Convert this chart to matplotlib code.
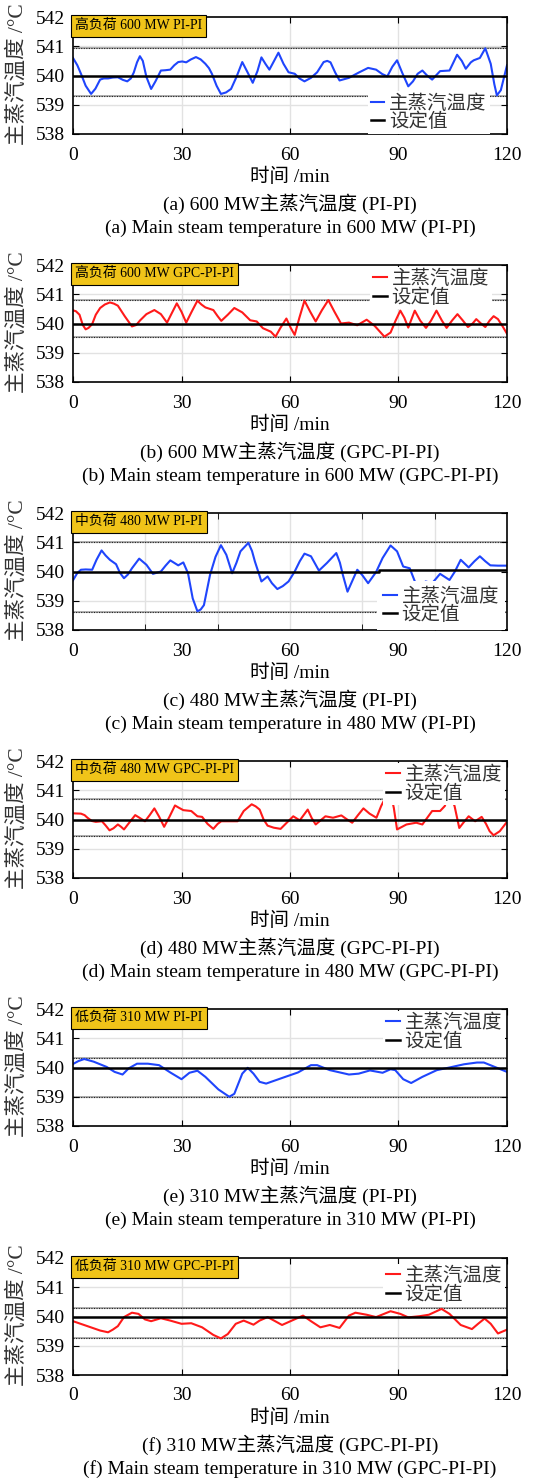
import numpy as np
import matplotlib.pyplot as plt

plt.rcParams['font.family'] = ['Liberation Serif', 'Noto Sans CJK SC']

# ---- data (time in min, temperature in degC) ----
t_a = [0, 1.2, 2.2, 3.5, 5.0, 6.2, 7.5, 8.5, 9.7, 11.0, 12.4, 13.8, 15.0, 16.0, 16.8, 17.7, 18.5, 19.3,
       20.3, 21.6, 22.8, 24.3, 25.5, 26.9, 28.0, 29.1, 30.2, 31.3, 32.6, 34.0, 35.3, 36.6, 37.6, 38.4,
       39.7, 40.9, 42.3, 43.7, 45.2, 46.8, 48.3, 49.7, 51.0, 52.1, 53.2, 54.3, 55.6, 56.8, 58.2, 59.6,
       61.3, 62.6, 64.0, 65.8, 67.5, 69.3, 70.3, 71.2, 72.5, 73.7, 76.3, 79.0, 81.6, 83.8, 85.5, 86.9,
       88.3, 89.6, 91.0, 92.7, 94.0, 95.3, 96.6, 97.9, 99.3, 101.5, 104.1, 105.2, 106.2, 107.5, 108.6,
       110.0, 110.8, 112.5, 114.0, 115.5, 116.5, 117.2, 118.3, 119.2, 120.0]
T_a = [540.60, 540.35, 540.06, 539.65, 539.37, 539.55, 539.86, 539.90, 539.90, 539.93, 539.94, 539.85,
       539.80, 539.90, 540.10, 540.45, 540.66, 540.50, 539.95, 539.54, 539.80, 540.17, 540.18, 540.20,
       540.35, 540.46, 540.48, 540.45, 540.55, 540.63, 540.55, 540.40, 540.25, 540.06, 539.65, 539.37,
       539.42, 539.54, 539.95, 540.46, 540.10, 539.75, 540.15, 540.62, 540.40, 540.20, 540.50, 540.78,
       540.40, 540.11, 540.06, 539.90, 539.80, 539.92, 540.11, 540.46, 540.50, 540.45, 540.10, 539.83,
       539.92, 540.10, 540.26, 540.20, 540.05, 539.97, 540.30, 540.52, 540.10, 539.63, 539.80, 540.06,
       540.17, 540.00, 539.86, 540.15, 540.17, 540.45, 540.71, 540.50, 540.23, 540.45, 540.52, 540.60,
       540.93, 540.40, 539.70, 539.32, 539.50, 539.95, 540.35]

t_b = [0, 0.8, 1.8, 2.7, 3.5, 4.3, 5.3, 6.3, 7.5, 8.8, 10.2, 11.3, 12.4, 14.3, 16.3, 17.5, 18.5, 20.3,
       22.5, 24.3, 26.0, 27.3, 28.7, 30.0, 31.3, 32.8, 34.4, 35.5, 36.6, 38.8, 40.0, 41.0, 42.8, 44.6,
       46.8, 49.0, 50.8, 52.5, 54.7, 56.0, 57.4, 59.0, 60.2, 61.3, 62.6, 64.0, 65.6, 67.1, 68.8, 70.6,
       72.3, 74.1, 76.3, 78.6, 81.2, 83.4, 86.1, 87.8, 89.2, 90.5, 91.6, 92.7, 94.5, 96.0, 97.6, 99.0,
       100.5, 102.0, 103.3, 104.8, 106.3, 107.8, 109.2, 110.5, 111.5, 112.8, 114.0, 115.2, 116.3, 117.5,
       118.8, 120.0]
T_b = [540.45, 540.42, 540.30, 539.95, 539.80, 539.85, 539.98, 540.30, 540.53, 540.65, 540.72, 540.68,
       540.61, 540.25, 539.90, 539.95, 540.10, 540.32, 540.46, 540.32, 540.03, 540.35, 540.69, 540.40,
       540.03, 540.40, 540.78, 540.65, 540.55, 540.46, 540.25, 540.09, 540.30, 540.53, 540.38, 540.11,
       540.07, 539.84, 539.72, 539.55, 539.86, 540.17, 539.85, 539.61, 540.20, 540.78, 540.40, 540.07,
       540.45, 540.80, 540.40, 540.00, 540.03, 539.94, 540.13, 539.92, 539.55, 539.69, 540.10, 540.44,
       540.20, 539.86, 540.44, 540.10, 539.85, 540.10, 540.44, 540.10, 539.85, 540.10, 540.32, 540.10,
       539.88, 540.00, 540.15, 540.00, 539.88, 540.10, 540.25, 540.15, 539.90, 539.65]

t_c = [0, 1.2, 2.2, 3.5, 5.3, 6.5, 7.9, 9.0, 10.2, 11.9, 13.0, 14.1, 15.2, 16.3, 18.3, 20.3, 22.1, 24.3,
       25.6, 26.9, 29.1, 30.5, 31.8, 33.1, 34.4, 35.3, 36.2, 37.9, 39.4, 40.9, 42.4, 44.0, 45.2, 46.3,
       48.5, 49.5, 50.3, 52.1, 53.8, 55.0, 56.5, 58.0, 59.6, 61.3, 62.7, 64.0, 65.8, 68.0, 70.2, 72.8,
       73.8, 74.6, 75.9, 77.3, 78.6, 79.9, 81.6, 83.8, 85.6, 87.8, 89.6, 91.3, 93.1, 94.9, 96.0, 97.5,
       99.3, 101.5, 104.1, 105.6, 107.2, 109.4, 111.0, 112.5, 114.0, 115.4, 117.5, 120.0]
T_c = [539.70, 539.95, 540.06, 540.07, 540.06, 540.40, 540.72, 540.55, 540.40, 540.25, 539.95, 539.77,
       539.90, 540.11, 540.44, 540.23, 539.92, 540.00, 540.20, 540.38, 540.21, 540.31, 539.94, 539.08,
       538.64, 538.70, 538.85, 539.89, 540.50, 540.90, 540.57, 539.94, 540.30, 540.69, 540.98, 540.70,
       540.34, 539.66, 539.83, 539.60, 539.40, 539.50, 539.66, 540.00, 540.35, 540.61, 540.52, 540.03,
       540.29, 540.63, 540.30, 539.89, 539.31, 539.70, 540.06, 539.89, 539.60, 539.98, 540.46, 540.89,
       540.69, 540.17, 540.11, 539.54, 539.48, 539.66, 539.60, 539.92, 539.71, 540.00, 540.40, 540.14,
       540.35, 540.52, 540.35, 540.21, 540.20, 540.20]

t_d = [0, 2.2, 3.2, 4.0, 5.2, 6.3, 8.0, 9.0, 10.1, 11.2, 12.4, 13.3, 14.1, 15.6, 17.2, 18.5, 19.9, 21.2,
       22.5, 23.8, 25.2, 26.7, 28.2, 29.3, 30.5, 32.7, 34.4, 35.7, 37.2, 38.8, 40.0, 41.0, 43.2, 45.5,
       47.2, 49.4, 50.5, 51.6, 52.7, 53.8, 55.5, 57.4, 59.1, 60.9, 62.7, 64.9, 66.0, 67.1, 69.8, 71.9,
       74.2, 75.8, 77.2, 78.8, 80.3, 82.0, 83.9, 85.2, 87.0, 88.0, 88.7, 89.6, 92.2, 94.9, 96.6, 99.3,
       101.5, 102.8, 104.0, 105.5, 106.8, 108.0, 109.4, 111.2, 113.0, 114.2, 115.2, 116.3, 118.0, 120.0]
T_d = [540.21, 540.20, 540.15, 540.06, 539.95, 539.92, 539.94, 539.80, 539.63, 539.70, 539.83, 539.75,
       539.66, 539.90, 540.15, 540.05, 539.94, 540.15, 540.38, 540.10, 539.75, 540.10, 540.48, 540.40,
       540.32, 540.29, 540.11, 540.09, 539.85, 539.68, 539.85, 539.94, 539.94, 539.94, 540.29, 540.52,
       540.45, 540.34, 540.00, 539.79, 539.72, 539.68, 539.89, 540.11, 539.97, 540.34, 540.05, 539.83,
       540.11, 540.06, 540.14, 540.00, 539.89, 540.15, 540.38, 540.20, 540.06, 540.46, 540.90, 540.80,
       540.40, 539.66, 539.83, 539.89, 539.83, 540.29, 540.29, 540.46, 540.90, 540.46, 539.71, 539.90,
       540.11, 539.94, 540.09, 539.85, 539.60, 539.46, 539.60, 539.92]

t_e = [0, 1.5, 3.1, 5.7, 9.3, 11.5, 13.7, 15.4, 17.7, 20.7, 23.8, 26.9, 30.0, 32.2, 34.4, 36.6, 40.2,
       43.2, 44.6, 46.8, 48.3, 49.9, 51.6, 53.4, 58.7, 62.2, 65.8, 67.5, 71.0, 76.3, 79.0, 82.1, 85.6,
       87.8, 89.1, 91.3, 93.5, 96.6, 100.6, 104.1, 108.1, 111.7, 113.6, 116.0, 120.0]
T_e = [540.12, 540.22, 540.29, 540.20, 540.02, 539.85, 539.76, 539.97, 540.13, 540.13, 540.08, 539.83,
       539.60, 539.82, 539.89, 539.68, 539.25, 539.00, 539.10, 539.79, 539.99, 539.79, 539.51, 539.45,
       539.68, 539.83, 540.08, 540.08, 539.91, 539.76, 539.79, 539.90, 539.82, 539.94, 539.91, 539.60,
       539.47, 539.68, 539.91, 540.00, 540.11, 540.17, 540.17, 540.05, 539.85]

t_f = [0, 4.0, 7.5, 9.7, 11.0, 12.4, 14.1, 16.3, 18.1, 19.9, 21.6, 24.3, 26.9, 30.0, 32.7, 35.7, 38.8,
       40.9, 42.8, 45.0, 47.2, 49.9, 51.6, 53.8, 55.6, 57.8, 60.5, 63.6, 65.8, 68.4, 71.0, 73.7, 76.3,
       78.1, 81.2, 83.8, 87.8, 90.5, 92.7, 95.8, 98.4, 101.9, 104.1, 107.2, 110.3, 112.0, 113.8, 115.5,
       117.5, 120.0]
T_f = [539.84, 539.67, 539.52, 539.46, 539.55, 539.67, 539.98, 540.13, 540.09, 539.90, 539.84, 539.94,
       539.86, 539.75, 539.77, 539.63, 539.37, 539.25, 539.40, 539.75, 539.86, 539.72, 539.86, 539.98,
       539.86, 539.71, 539.86, 540.03, 539.84, 539.63, 539.71, 539.61, 540.03, 540.13, 540.06, 539.98,
       540.18, 540.09, 539.97, 540.01, 540.06, 540.26, 540.09, 539.71, 539.57, 539.75, 539.93, 539.75,
       539.42, 539.55]

# set point (panel c has a small step)
sp_t = [[0, 120], [0, 120], [0, 84.5, 84.5, 120], [0, 120], [0, 120], [0, 120]]
sp_v = [[540, 540], [540, 540], [540, 540, 540.06, 540.06], [540, 540], [540, 540], [540, 540]]

upper = [540.95, 540.82, 541.0, 540.69, 540.33, 540.28]
lower = [539.31, 539.53, 538.62, 539.43, 539.0, 539.25]

times = [t_a, t_b, t_c, t_d, t_e, t_f]
temps = [T_a, T_b, T_c, T_d, T_e, T_f]
colors = ['#1f45fc', '#ff1a1a', '#1f45fc', '#ff1a1a', '#1f45fc', '#ff1a1a']
tags = ['高负荷 600 MW PI-PI', '高负荷 600 MW GPC-PI-PI', '中负荷 480 MW PI-PI',
        '中负荷 480 MW GPC-PI-PI', '低负荷 310 MW PI-PI', '低负荷 310 MW GPC-PI-PI']
cap_cn = ['(a) 600 MW主蒸汽温度 (PI-PI)', '(b) 600 MW主蒸汽温度 (GPC-PI-PI)',
          '(c) 480 MW主蒸汽温度 (PI-PI)', '(d) 480 MW主蒸汽温度 (GPC-PI-PI)',
          '(e) 310 MW主蒸汽温度 (PI-PI)', '(f) 310 MW主蒸汽温度 (GPC-PI-PI)']
cap_en = ['(a) Main steam temperature in 600 MW (PI-PI)',
          '(b) Main steam temperature in 600 MW (GPC-PI-PI)',
          '(c) Main steam temperature in 480 MW (PI-PI)',
          '(d) Main steam temperature in 480 MW (GPC-PI-PI)',
          '(e) Main steam temperature in 310 MW (PI-PI)',
          '(f) Main steam temperature in 310 MW (GPC-PI-PI)']
leg_loc = [('lower right', (0.96, 0.0), 0.15), ('upper right', (0.965, 0.985), 0.15),
           ('lower right', (0.995, 0.0), 0.3), ('upper right', (0.995, 0.985), 0.15),
           ('upper right', (0.995, 0.985), 0.15), ('upper right', (0.995, 0.95), 0.15)]
grid_step = [30, 30, 20, 30, 30, 30]

W, H = 546, 1482
fig = plt.figure(figsize=(W / 100, H / 100), dpi=100)
bottoms = [134, 382, 630, 878, 1126, 1375]
ax_h = 117

for i in range(6):
    b = bottoms[i]
    ax = fig.add_axes([73 / W, 1 - b / H, 434 / W, ax_h / H])
    ax.set_xlim(0, 120)
    ax.set_ylim(538, 542)

    # grid
    for g in np.arange(grid_step[i], 120, grid_step[i]):
        ax.axvline(g, color='#e2e2e2', lw=1, zorder=0)
    for g in [539, 541]:
        ax.axhline(g, color='#e2e2e2', lw=1, zorder=0)

    for lvl in (upper[i], lower[i]):
        ax.axhline(lvl, color='#b0b0b0', lw=1.4, zorder=1)
        ax.axhline(lvl, color='#222222', lw=0.8, ls=(0, (1, 1.3)), zorder=1.1)

    l1, = ax.plot(times[i], temps[i], color=colors[i], lw=1.5, zorder=2)
    l2, = ax.plot(sp_t[i], sp_v[i], color='black', lw=1.8, zorder=2.5)

    loc, anchor, bpad = leg_loc[i]
    leg = ax.legend([l1, l2], ['主蒸汽温度', '设定值'], loc=loc, bbox_to_anchor=anchor,
                    fontsize=14, handlelength=0.7, handletextpad=0.25, labelspacing=0.0,
                    borderpad=bpad, borderaxespad=0.0, frameon=True, fancybox=False,
                    framealpha=1.0, facecolor='white', edgecolor='none')
    for txt in leg.get_texts():
        txt.set_color('#333333')

    ax.text(0.005, 0.98, tags[i], transform=ax.transAxes, ha='left', va='top', fontsize=10,
            zorder=6, bbox=dict(boxstyle='square,pad=0.3', fc='#f0c419', ec='black', lw=0.8))

    ax.set_xticks([0, 30, 60, 90, 120])
    ax.set_yticks([538, 539, 540, 541, 542])
    if grid_step[i] != 30:
        ax.set_xticks(np.arange(grid_step[i], 120, grid_step[i]), minor=True)
        ax.tick_params(axis='x', which='major', length=0)
        ax.tick_params(axis='x', which='minor', direction='in', top=True, bottom=True, length=4)
    ax.tick_params(direction='in', top=True, right=True, labelsize=14)
    ax.tick_params(axis='x', which='major', pad=9)
    ax.tick_params(axis='y', pad=6, length=4)
    if grid_step[i] == 30:
        ax.tick_params(axis='x', length=4)
    for s in ax.spines.values():
        s.set_linewidth(1.2)

    fig.text(17 / W, 1 - (b - 60) / H, '主蒸汽温度 /°C', rotation=90, ha='center', va='center',
             fontsize=15.5, color='#333333')
    fig.text(290 / W, 1 - (b + 43) / H, '时间 /min', ha='center', va='center', fontsize=14)
    fig.text(290 / W, 1 - (b + 70) / H, cap_cn[i], ha='center', va='center', fontsize=14)
    fig.text(290 / W, 1 - (b + 94) / H, cap_en[i], ha='center', va='center', fontsize=14)

fig.savefig('out.png', dpi=100)
